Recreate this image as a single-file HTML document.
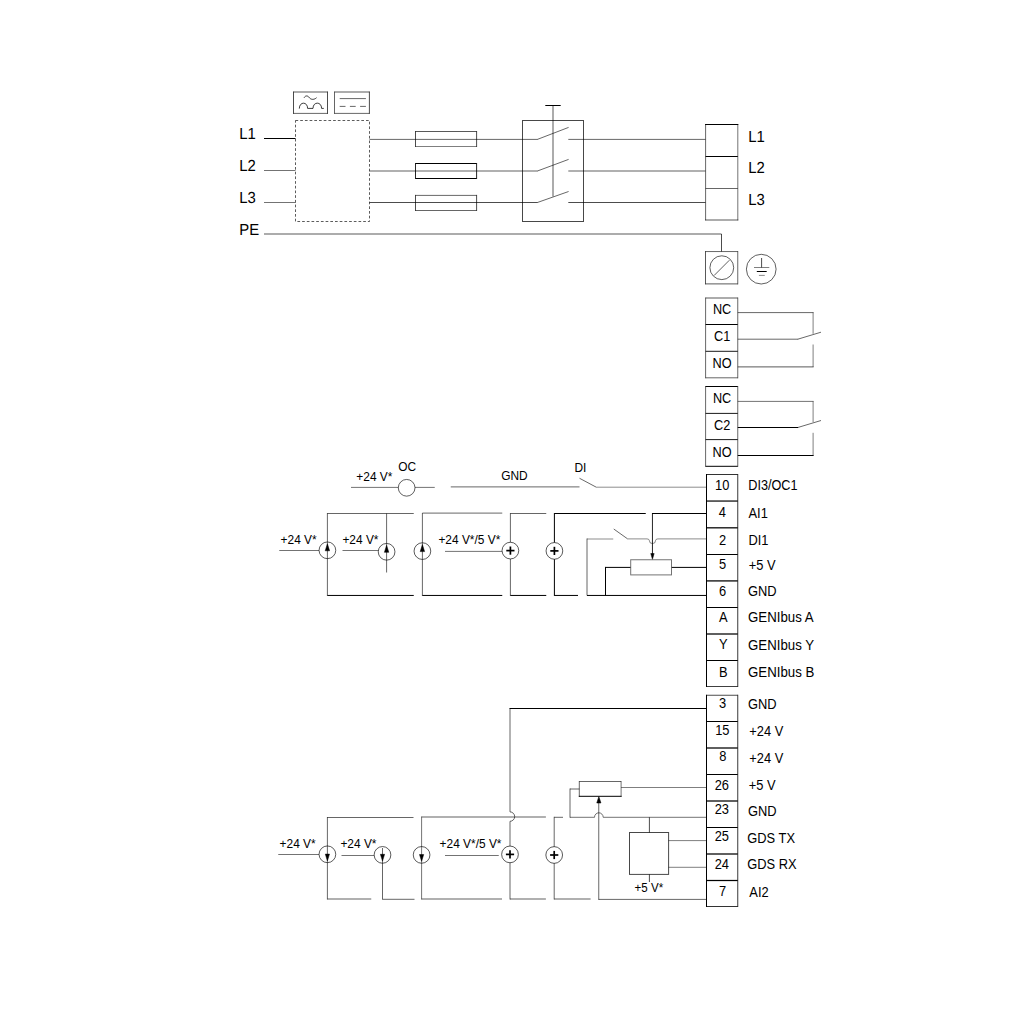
<!DOCTYPE html>
<html><head><meta charset="utf-8"><title>Wiring diagram</title>
<style>
html,body{margin:0;padding:0;background:#fff;}
body{width:1024px;height:1024px;overflow:hidden;}
svg{display:block;fill:none;stroke:#000;stroke-width:1;}
svg text{fill:#000;stroke:none;font-family:"Liberation Sans",Arial,Helvetica,sans-serif;}
svg text.b{font-size:16px;text-rendering:geometricPrecision;}
svg text.m{font-size:14px;}
svg text.s{font-size:12.1px;}
</style></head><body>
<svg width="1024" height="1024" viewBox="0 0 1024 1024">
<line x1="293.5" y1="91.5" x2="293.5" y2="113.9" stroke-opacity="0.7"/>
<line x1="327.5" y1="91.5" x2="327.5" y2="113.9" stroke-opacity="0.7"/>
<line x1="293.5" y1="92.0" x2="327.5" y2="92.0" stroke-opacity="0.65"/>
<line x1="293.5" y1="113.4" x2="327.5" y2="113.4" stroke-opacity="0.6"/>
<line x1="334.5" y1="91.5" x2="334.5" y2="113.9" stroke-opacity="0.6"/>
<line x1="369.4" y1="91.5" x2="369.4" y2="113.9" stroke-opacity="0.7"/>
<line x1="334.5" y1="92.0" x2="369.4" y2="92.0" stroke-opacity="0.65"/>
<line x1="334.5" y1="113.4" x2="369.4" y2="113.4" stroke-opacity="0.6"/>
<path d="M304.1,97.7 C305.2,95.6 307.6,95.3 309,97.3 C310.6,99.6 313.6,100.3 316.6,97.7" stroke-opacity="0.85" stroke-width="0.9"/>
<path d="M299.3,108.6 C299.3,101.4 307.6,101.4 307.6,108.4 L313,108.4 C313,101.4 321.6,101.4 321.6,108.4 L323.8,108.4" stroke-opacity="0.85" stroke-width="0.9"/>
<line x1="339.7" y1="98.6" x2="365.9" y2="98.6" stroke-opacity="0.6"/>
<line x1="339.7" y1="106.4" x2="365.9" y2="106.4" stroke-opacity="0.6" stroke-dasharray="5.8 4.4"/>
<rect x="295.5" y="120.5" width="74.0" height="101.0" stroke-opacity="0.64" stroke-dasharray="2.7 2"/>
<line x1="264" y1="138.5" x2="295.5" y2="138.5"/>
<line x1="264" y1="170.5" x2="295.5" y2="170.5" stroke-opacity="0.55"/>
<line x1="264" y1="202.5" x2="295.5" y2="202.5" stroke-opacity="0.55"/>
<line x1="264" y1="234" x2="721.5" y2="234" stroke-opacity="0.65"/>
<line x1="721.5" y1="234" x2="721.5" y2="251.5" stroke-opacity="0.7"/>
<line x1="369.5" y1="139.4" x2="537.6" y2="139.4" stroke-opacity="0.6"/>
<line x1="568.3" y1="139.4" x2="705.5" y2="139.4" stroke-opacity="0.6"/>
<line x1="537.4" y1="139.4" x2="568.6" y2="127.4" stroke-opacity="0.75" stroke-width="0.8"/>
<line x1="369.5" y1="171" x2="537.6" y2="171" stroke-opacity="0.62"/>
<line x1="568.3" y1="171" x2="705.5" y2="171" stroke-opacity="0.62"/>
<line x1="537.4" y1="171" x2="568.6" y2="159.4" stroke-opacity="0.75" stroke-width="0.8"/>
<line x1="369.5" y1="202.5" x2="537.6" y2="202.5" stroke-opacity="0.7"/>
<line x1="568.3" y1="202.5" x2="705.5" y2="202.5" stroke-opacity="0.7"/>
<line x1="537.4" y1="202.5" x2="568.6" y2="191.5" stroke-opacity="0.75" stroke-width="0.8"/>
<line x1="415.5" y1="131.0" x2="415.5" y2="147.0" stroke-opacity="0.7"/>
<line x1="476.6" y1="131.0" x2="476.6" y2="147.0" stroke-opacity="0.7"/>
<line x1="415.5" y1="131.5" x2="476.6" y2="131.5" stroke-opacity="0.65"/>
<line x1="415.5" y1="146.5" x2="476.6" y2="146.5" stroke-opacity="0.5"/>
<line x1="415.5" y1="163.0" x2="415.5" y2="179.0" stroke-opacity="0.85"/>
<line x1="476.6" y1="163.0" x2="476.6" y2="179.0" stroke-opacity="0.85"/>
<line x1="415.5" y1="163.5" x2="476.6" y2="163.5"/>
<line x1="415.5" y1="178.5" x2="476.6" y2="178.5"/>
<line x1="415.5" y1="194.9" x2="415.5" y2="211.0" stroke-opacity="0.7"/>
<line x1="476.6" y1="194.9" x2="476.6" y2="211.0" stroke-opacity="0.7"/>
<line x1="415.5" y1="195.4" x2="476.6" y2="195.4" stroke-opacity="0.6"/>
<line x1="415.5" y1="210.5" x2="476.6" y2="210.5" stroke-opacity="0.6"/>
<rect x="522.5" y="120.5" width="61.0" height="101.0" stroke-opacity="0.72"/>
<line x1="553" y1="105.5" x2="553" y2="196.5" stroke-opacity="0.65"/>
<line x1="545.3" y1="105.5" x2="560.7" y2="105.5"/>
<line x1="705.6" y1="124" x2="705.6" y2="220.3" stroke-opacity="0.6"/>
<line x1="737.8" y1="124" x2="737.8" y2="220.3" stroke-opacity="0.55"/>
<line x1="705.1" y1="124.5" x2="738.3" y2="124.5"/>
<line x1="705.6" y1="156.5" x2="737.8" y2="156.5"/>
<line x1="705.6" y1="188.5" x2="737.8" y2="188.5" stroke-opacity="0.6"/>
<line x1="705.1" y1="220" x2="738.3" y2="220" stroke-opacity="0.65"/>
<line x1="705.5" y1="251.06" x2="705.5" y2="284.4" stroke-opacity="0.65"/>
<line x1="737.75" y1="251.06" x2="737.75" y2="284.4" stroke-opacity="0.6"/>
<line x1="705.5" y1="251.56" x2="737.75" y2="251.56" stroke-opacity="0.6"/>
<line x1="705.5" y1="283.9" x2="737.75" y2="283.9" stroke-opacity="0.65"/>
<circle cx="721.8" cy="267.7" r="11.9" stroke-opacity="0.7" stroke-width="0.9"/>
<line x1="714.1" y1="275.5" x2="729.4" y2="260.2" stroke-opacity="0.7" stroke-width="0.9"/>
<circle cx="761.25" cy="269.15" r="14.85" stroke-opacity="0.7" stroke-width="0.9"/>
<line x1="761.6" y1="258" x2="761.6" y2="267.5" stroke-opacity="0.7"/>
<line x1="754" y1="267.5" x2="769.3" y2="267.5" stroke-opacity="0.5"/>
<line x1="756.8" y1="271.5" x2="766.7" y2="271.5"/>
<line x1="758.9" y1="275.4" x2="764.75" y2="275.4" stroke-opacity="0.45"/>
<text transform="translate(239.3 138.8) scale(0.93 1)" class="b">L1</text>
<text transform="translate(239.3 170.8) scale(0.93 1)" class="b">L2</text>
<text transform="translate(239.3 202.8) scale(0.93 1)" class="b">L3</text>
<text transform="translate(239.3 234.8) scale(0.93 1)" class="b">PE</text>
<text transform="translate(748.2 142) scale(0.93 1)" class="b">L1</text>
<text transform="translate(748.2 172.9) scale(0.93 1)" class="b">L2</text>
<text transform="translate(748.2 204.9) scale(0.93 1)" class="b">L3</text>
<line x1="705.6" y1="297.5" x2="705.6" y2="378.3" stroke-opacity="0.6"/>
<line x1="737.75" y1="297.5" x2="737.75" y2="378.3" stroke-opacity="0.6"/>
<line x1="705.6" y1="298" x2="737.75" y2="298" stroke-opacity="0.65"/>
<line x1="705.6" y1="324.5" x2="737.75" y2="324.5"/>
<line x1="705.6" y1="351.3" x2="737.75" y2="351.3" stroke-opacity="0.9"/>
<line x1="705.6" y1="377.8" x2="737.75" y2="377.8" stroke-opacity="0.6"/>
<line x1="737.75" y1="312.6" x2="813.6" y2="312.6" stroke-opacity="0.6"/>
<line x1="813.1" y1="312.6" x2="813.1" y2="333.8" stroke-opacity="0.5"/>
<line x1="737.75" y1="339.2" x2="798.1" y2="339.2" stroke-opacity="0.6"/>
<line x1="797.8" y1="339.2" x2="821" y2="332.2" stroke-opacity="0.7" stroke-width="0.85"/>
<line x1="737.75" y1="366.9" x2="813.6" y2="366.9" stroke-opacity="0.65"/>
<line x1="813.1" y1="344.5" x2="813.1" y2="366.9" stroke-opacity="0.5"/>
<text transform="translate(722.1 313.75) scale(0.91 1)" class="m" text-anchor="middle">NC</text>
<text transform="translate(722.1 341) scale(0.91 1)" class="m" text-anchor="middle">C1</text>
<text transform="translate(722.1 368) scale(0.91 1)" class="m" text-anchor="middle">NO</text>
<line x1="705.6" y1="386.0" x2="705.6" y2="466.8" stroke-opacity="0.6"/>
<line x1="737.75" y1="386.0" x2="737.75" y2="466.8" stroke-opacity="0.6"/>
<line x1="705.6" y1="386.5" x2="737.75" y2="386.5"/>
<line x1="705.6" y1="413.4" x2="737.75" y2="413.4" stroke-opacity="0.9"/>
<line x1="705.6" y1="439.6" x2="737.75" y2="439.6" stroke-opacity="0.9"/>
<line x1="705.6" y1="466.3" x2="737.75" y2="466.3"/>
<line x1="737.75" y1="401.4" x2="813.6" y2="401.4" stroke-opacity="0.55"/>
<line x1="813.1" y1="401.4" x2="813.1" y2="422.1" stroke-opacity="0.5"/>
<line x1="737.75" y1="427.5" x2="798.1" y2="427.5"/>
<line x1="797.8" y1="427.5" x2="821" y2="420.5" stroke-opacity="0.7" stroke-width="0.85"/>
<line x1="737.75" y1="455.5" x2="813.6" y2="455.5"/>
<line x1="813.1" y1="432.8" x2="813.1" y2="455.5" stroke-opacity="0.5"/>
<text transform="translate(722.1 402.6) scale(0.91 1)" class="m" text-anchor="middle">NC</text>
<text transform="translate(722.1 429.8) scale(0.91 1)" class="m" text-anchor="middle">C2</text>
<text transform="translate(722.1 456.7) scale(0.91 1)" class="m" text-anchor="middle">NO</text>
<line x1="706.5" y1="474.0" x2="706.5" y2="687.0"/>
<line x1="737.75" y1="474.0" x2="737.75" y2="687.0" stroke-opacity="0.78"/>
<line x1="706.5" y1="474.5" x2="737.75" y2="474.5" stroke-opacity="0.8"/>
<line x1="706.5" y1="501.05" x2="737.75" y2="501.05" stroke-width="1.2"/>
<line x1="706.5" y1="527.8" x2="737.75" y2="527.8" stroke-opacity="0.9" stroke-width="1.4"/>
<line x1="706.5" y1="554.5" x2="737.75" y2="554.5"/>
<line x1="706.5" y1="580.9" x2="737.75" y2="580.9" stroke-opacity="0.9" stroke-width="1.4"/>
<line x1="706.5" y1="607.5" x2="737.75" y2="607.5"/>
<line x1="706.5" y1="634" x2="737.75" y2="634" stroke-opacity="0.9" stroke-width="1.4"/>
<line x1="706.5" y1="660.5" x2="737.75" y2="660.5"/>
<line x1="706.5" y1="686.5" x2="737.75" y2="686.5" stroke-opacity="0.75"/>
<text transform="translate(722.2 489.75) scale(0.92 1)" class="m" text-anchor="middle">10</text>
<text transform="translate(722.3 517) scale(0.92 1)" class="m" text-anchor="middle">4</text>
<text transform="translate(722.6 544.75) scale(0.92 1)" class="m" text-anchor="middle">2</text>
<text transform="translate(722.7 568.6) scale(0.92 1)" class="m" text-anchor="middle">5</text>
<text transform="translate(722.7 595.6) scale(0.92 1)" class="m" text-anchor="middle">6</text>
<text transform="translate(723.4 622) scale(0.92 1)" class="m" text-anchor="middle">A</text>
<text transform="translate(723.3 649) scale(0.92 1)" class="m" text-anchor="middle">Y</text>
<text transform="translate(723.3 676.5) scale(0.92 1)" class="m" text-anchor="middle">B</text>
<text transform="translate(748.3 490) scale(0.905 1)" class="m">DI3/OC1</text>
<text transform="translate(748.5 518) scale(0.92 1)" class="m">AI1</text>
<text transform="translate(748.5 545) scale(0.92 1)" class="m">DI1</text>
<text transform="translate(748.8 569.75) scale(0.92 1)" class="m">+5 V</text>
<text transform="translate(748.0 596) scale(0.92 1)" class="m">GND</text>
<text transform="translate(748.0 622.25) scale(0.947 1)" class="m">GENIbus A</text>
<text transform="translate(748.0 649.75) scale(0.947 1)" class="m">GENIbus Y</text>
<text transform="translate(748.0 676.75) scale(0.947 1)" class="m">GENIbus B</text>
<line x1="706.5" y1="694.75" x2="706.5" y2="907.0"/>
<line x1="737.75" y1="694.75" x2="737.75" y2="907.0" stroke-opacity="0.78"/>
<line x1="706.5" y1="695.25" x2="737.75" y2="695.25" stroke-opacity="0.7"/>
<line x1="706.5" y1="721.5" x2="737.75" y2="721.5"/>
<line x1="706.5" y1="748" x2="737.75" y2="748" stroke-opacity="0.9" stroke-width="1.4"/>
<line x1="706.5" y1="774.5" x2="737.75" y2="774.5"/>
<line x1="706.5" y1="801" x2="737.75" y2="801" stroke-opacity="0.9" stroke-width="1.4"/>
<line x1="706.5" y1="827.5" x2="737.75" y2="827.5"/>
<line x1="706.5" y1="854" x2="737.75" y2="854" stroke-opacity="0.9" stroke-width="1.4"/>
<line x1="706.5" y1="880.5" x2="737.75" y2="880.5" stroke-width="1.25"/>
<line x1="706.5" y1="906.5" x2="737.75" y2="906.5" stroke-opacity="0.8"/>
<text transform="translate(722.7 707.5) scale(0.92 1)" class="m" text-anchor="middle">3</text>
<text transform="translate(722.3 734.5) scale(0.92 1)" class="m" text-anchor="middle">15</text>
<text transform="translate(722.8 760.5) scale(0.92 1)" class="m" text-anchor="middle">8</text>
<text transform="translate(721.8 789.5) scale(0.92 1)" class="m" text-anchor="middle">26</text>
<text transform="translate(721.8 814.25) scale(0.92 1)" class="m" text-anchor="middle">23</text>
<text transform="translate(721.8 840.75) scale(0.92 1)" class="m" text-anchor="middle">25</text>
<text transform="translate(721.8 868.5) scale(0.92 1)" class="m" text-anchor="middle">24</text>
<text transform="translate(722.6 895.5) scale(0.92 1)" class="m" text-anchor="middle">7</text>
<text transform="translate(748.0 709) scale(0.92 1)" class="m">GND</text>
<text transform="translate(749.3 735.5) scale(0.92 1)" class="m">+24 V</text>
<text transform="translate(749.3 762.5) scale(0.92 1)" class="m">+24 V</text>
<text transform="translate(748.8 789.5) scale(0.92 1)" class="m">+5 V</text>
<text transform="translate(748.0 815.75) scale(0.92 1)" class="m">GND</text>
<text transform="translate(747.3 842.75) scale(0.92 1)" class="m">GDS TX</text>
<text transform="translate(747.3 868.75) scale(0.92 1)" class="m">GDS RX</text>
<text transform="translate(749.3 896.5) scale(0.92 1)" class="m">AI2</text>
<text transform="translate(356.3 480.75) scale(0.985 1)" class="s">+24 V*</text>
<text transform="translate(398.2 471) scale(0.985 1)" class="s">OC</text>
<line x1="351" y1="487.4" x2="398.3" y2="487.4" stroke-opacity="0.55"/>
<circle cx="406.65" cy="487.8" r="8.35" stroke-opacity="0.7" stroke-width="0.9"/>
<line x1="415" y1="487.4" x2="434.75" y2="487.4" stroke-opacity="0.55"/>
<line x1="450.75" y1="486.9" x2="579.5" y2="486.9" stroke-opacity="0.6"/>
<text transform="translate(501.2 479.75) scale(0.985 1)" class="s">GND</text>
<text transform="translate(574.5 471.75) scale(0.985 1)" class="s">DI</text>
<line x1="579.5" y1="478.25" x2="596.25" y2="487.2" stroke-opacity="0.7" stroke-width="0.85"/>
<line x1="596.25" y1="487.2" x2="706.5" y2="487.2" stroke-opacity="0.45"/>
<line x1="327.4" y1="513.5" x2="413.75" y2="513.5" stroke-opacity="0.6"/>
<line x1="327.4" y1="513.0" x2="327.4" y2="595.95" stroke-opacity="0.6"/>
<line x1="327.4" y1="595.45" x2="413.75" y2="595.45"/>
<circle cx="327.4" cy="550.3" r="8.35" stroke-opacity="0.72" stroke-width="0.9"/>
<path d="M327.4,543.8 L329.59999999999997,550.8 L325.2,550.8 Z" stroke-width="0.5" fill="#000"/>
<line x1="279.25" y1="550.5" x2="319" y2="550.5" stroke-opacity="0.55"/>
<text transform="translate(280.6 543.75) scale(0.985 1)" class="s">+24 V*</text>
<line x1="386.6" y1="513.5" x2="386.6" y2="572.5" stroke-opacity="0.6"/>
<circle cx="386.6" cy="551.8" r="8.35" stroke-opacity="0.72" stroke-width="0.9"/>
<path d="M386.6,545.3 L388.8,552.3 L384.40000000000003,552.3 Z" stroke-width="0.5" fill="#000"/>
<line x1="342.5" y1="550.5" x2="378.25" y2="550.5" stroke-opacity="0.55"/>
<text transform="translate(342.4 543.75) scale(0.985 1)" class="s">+24 V*</text>
<line x1="422.4" y1="513.1" x2="502.25" y2="513.1" stroke-opacity="0.6"/>
<line x1="422.4" y1="513" x2="422.4" y2="595.95" stroke-opacity="0.6"/>
<line x1="422.4" y1="595.45" x2="502.25" y2="595.45"/>
<circle cx="422.4" cy="551.1" r="8.35" stroke-opacity="0.72" stroke-width="0.9"/>
<path d="M422.4,544.6 L424.59999999999997,551.6 L420.2,551.6 Z" stroke-width="0.5" fill="#000"/>
<text transform="translate(438.4 543.75) scale(0.985 1)" class="s">+24 V*/5 V*</text>
<line x1="445" y1="551.4" x2="502" y2="551.4" stroke-opacity="0.55"/>
<line x1="510.4" y1="513.5" x2="546.25" y2="513.5" stroke-opacity="0.6"/>
<line x1="510.4" y1="513.0" x2="510.4" y2="595.95" stroke-opacity="0.6"/>
<line x1="510.4" y1="595.45" x2="546.25" y2="595.45"/>
<circle cx="510.4" cy="550.6" r="8.35" stroke-opacity="0.72" stroke-width="0.9" fill="#fff"/>
<line x1="506.29999999999995" y1="550.6" x2="514.5" y2="550.6" stroke-width="1.7"/>
<line x1="510.4" y1="546.5" x2="510.4" y2="554.7" stroke-width="1.7"/>
<line x1="554.4" y1="513.5" x2="645.75" y2="513.5"/>
<line x1="554.4" y1="513.0" x2="554.4" y2="595.95"/>
<line x1="554.4" y1="595.45" x2="578" y2="595.45"/>
<circle cx="554.4" cy="550.9" r="8.35" stroke-opacity="0.72" stroke-width="0.9" fill="#fff"/>
<line x1="550.3" y1="550.9" x2="558.5" y2="550.9" stroke-width="1.7"/>
<line x1="554.4" y1="546.8" x2="554.4" y2="555.0" stroke-width="1.7"/>
<line x1="652" y1="513.5" x2="706.5" y2="513.5"/>
<line x1="652.45" y1="513.0" x2="652.45" y2="554" stroke-opacity="0.85"/>
<path d="M652.45,559.3 L654.1500000000001,553.5 L650.75,553.5 Z" stroke-width="0.5" fill="#000"/>
<line x1="587" y1="539" x2="613.25" y2="539" stroke-opacity="0.45"/>
<line x1="587" y1="538.5" x2="587" y2="595.45" stroke-opacity="0.6"/>
<line x1="613.75" y1="529" x2="627.5" y2="538.8" stroke-opacity="0.7" stroke-width="0.85"/>
<path d="M627.5,538.9 L647,538.9 Q649.1,538.9 649.3,540.4 A3.15,3.2 0 0 0 655.6,540.4 Q655.8,538.9 657.9,538.9 L706.5,538.9" stroke-opacity="0.45"/>
<rect x="630.7" y="559.75" width="40.8" height="15.15" stroke-opacity="0.55"/>
<line x1="605.5" y1="567.4" x2="630.5" y2="567.4"/>
<line x1="605.5" y1="566.9" x2="605.5" y2="595.45"/>
<line x1="671.75" y1="567.4" x2="706.5" y2="567.4"/>
<line x1="587" y1="595.45" x2="706.5" y2="595.45"/>
<line x1="327.25" y1="817.5" x2="413.5" y2="817.5" stroke-opacity="0.6"/>
<line x1="327.4" y1="817.0" x2="327.4" y2="899.5" stroke-opacity="0.6"/>
<line x1="327.4" y1="899.0" x2="371.25" y2="899.0" stroke-opacity="0.62"/>
<circle cx="327.4" cy="854.3" r="8.35" stroke-opacity="0.72" stroke-width="0.9"/>
<path d="M327.4,860.9 L329.5,854.1 L325.29999999999995,854.1 Z" stroke-width="0.5" fill="#000"/>
<line x1="278.25" y1="854.5" x2="319" y2="854.5" stroke-opacity="0.55"/>
<text transform="translate(279.6 848) scale(0.985 1)" class="s">+24 V*</text>
<line x1="382.5" y1="848" x2="382.5" y2="899.5" stroke-opacity="0.6"/>
<line x1="382.5" y1="899.3" x2="414.5" y2="899.3" stroke-opacity="0.6"/>
<circle cx="382.5" cy="854.9" r="8.35" stroke-opacity="0.72" stroke-width="0.9"/>
<path d="M382.5,861.0999999999999 L384.6,854.3 L380.4,854.3 Z" stroke-width="0.5" fill="#000"/>
<line x1="341.5" y1="855.5" x2="374" y2="855.5" stroke-opacity="0.55"/>
<text transform="translate(340.4 848) scale(0.985 1)" class="s">+24 V*</text>
<line x1="421.6" y1="817.0" x2="545.9" y2="817.0" stroke-opacity="0.62"/>
<line x1="421.6" y1="816.5" x2="421.6" y2="899.5" stroke-opacity="0.55"/>
<line x1="421.6" y1="899.0" x2="502" y2="899.0" stroke-opacity="0.62"/>
<circle cx="421.6" cy="854.9" r="8.35" stroke-opacity="0.72" stroke-width="0.9"/>
<path d="M421.6,861.3 L423.70000000000005,854.5 L419.5,854.5 Z" stroke-width="0.5" fill="#000"/>
<text transform="translate(439.6 848) scale(0.985 1)" class="s">+24 V*/5 V*</text>
<line x1="445" y1="855.5" x2="498.75" y2="855.5" stroke-opacity="0.55"/>
<line x1="509.5" y1="708.5" x2="706.5" y2="708.5"/>
<path d="M510,708.5 L510,811.9 A4.7,4.7 0 0 1 510,821.3 L510,899.5" stroke-opacity="0.6"/>
<line x1="510" y1="899.0" x2="545.9" y2="899.0" stroke-opacity="0.62"/>
<circle cx="510" cy="854.4" r="8.35" stroke-opacity="0.72" stroke-width="0.9" fill="#fff"/>
<line x1="505.9" y1="854.4" x2="514.1" y2="854.4" stroke-width="1.7"/>
<line x1="510" y1="850.3" x2="510" y2="858.5" stroke-width="1.7"/>
<line x1="554.2" y1="817.3" x2="563" y2="817.3" stroke-opacity="0.6"/>
<line x1="554.2" y1="816.8" x2="554.2" y2="899.5" stroke-opacity="0.6"/>
<line x1="554.2" y1="899.0" x2="590.6" y2="899.0" stroke-opacity="0.62"/>
<circle cx="554.2" cy="855" r="8.35" stroke-opacity="0.72" stroke-width="0.9" fill="#fff"/>
<line x1="550.1" y1="855" x2="558.3000000000001" y2="855" stroke-width="1.7"/>
<line x1="554.2" y1="850.9" x2="554.2" y2="859.1" stroke-width="1.7"/>
<line x1="579.3" y1="781" x2="579.3" y2="796.7" stroke-opacity="0.6"/>
<line x1="621.1" y1="781" x2="621.1" y2="796.7" stroke-opacity="0.55"/>
<line x1="579.3" y1="781.5" x2="621.1" y2="781.5" stroke-opacity="0.6"/>
<line x1="578.8" y1="796.3" x2="621.6" y2="796.3"/>
<line x1="570" y1="789.0" x2="579.3" y2="789.0" stroke-opacity="0.6"/>
<line x1="570" y1="788.5" x2="570" y2="817.7" stroke-opacity="0.6"/>
<path d="M570,817.3 L594.5,817.3 A4.35,4.5 0 0 1 603.2,817.3 L706.5,817.3" stroke-opacity="0.55"/>
<line x1="621.1" y1="787.5" x2="706.5" y2="787.5" stroke-opacity="0.5"/>
<line x1="598.75" y1="802" x2="598.75" y2="899.9" stroke-opacity="0.6"/>
<line x1="598.75" y1="899.4" x2="706.5" y2="899.4" stroke-opacity="0.6"/>
<path d="M598.85,796.5 L600.95,803.0 L596.75,803.0 Z" stroke-width="0.5" fill="#000"/>
<rect x="629.5" y="832.5" width="39.1" height="41.9" stroke-opacity="0.72"/>
<line x1="649.4" y1="817.3" x2="649.4" y2="832.5" stroke-opacity="0.7"/>
<line x1="649.4" y1="874.4" x2="649.4" y2="882" stroke-opacity="0.7"/>
<line x1="668.6" y1="840.6" x2="706.5" y2="840.6" stroke-opacity="0.5"/>
<line x1="668.6" y1="867.3" x2="706.5" y2="867.3" stroke-opacity="0.5"/>
<text transform="translate(634.6 891.5) scale(0.955 1)" class="s">+5 V*</text>
</svg>
</body></html>
